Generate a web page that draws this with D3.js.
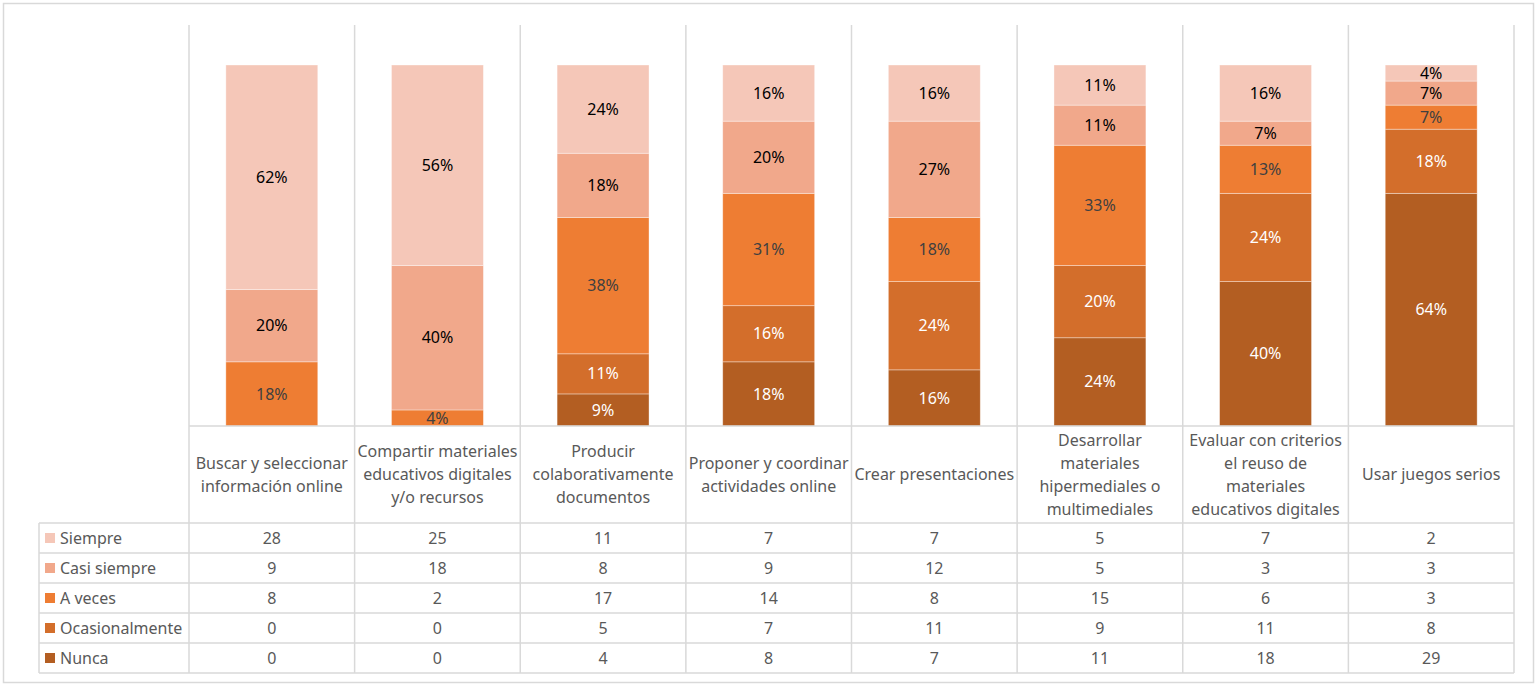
<!DOCTYPE html>
<html>
<head>
<meta charset="utf-8">
<script src="https://cdn.jsdelivr.net/npm/d3@7"></script>
<style>
  body { margin: 0; background: #fff; }
  svg { font-family: "Noto Sans", "Open Sans", sans-serif; }
</style>
</head>
<body>
<svg id="chart" width="1539" height="685"></svg>
<script>
// datos
const categories = [
  "Buscar y seleccionar\ninformación online",
  "Compartir materiales\neducativos digitales\ny/o recursos",
  "Producir\ncolaborativamente\ndocumentos",
  "Proponer y coordinar\nactividades online",
  "Crear presentaciones",
  "Desarrollar\nmateriales\nhipermediales o\nmultimediales",
  "Evaluar con criterios\nel reuso de\nmateriales\neducativos digitales",
  "Usar juegos serios"
];
const seriesNames = ["Siempre", "Casi siempre", "A veces", "Ocasionalmente", "Nunca"];
const siempre        = [28, 25, 11, 7, 7, 5, 7, 2];
const casiSiempre    = [9, 18, 8, 9, 12, 5, 3, 3];
const aVeces         = [8, 2, 17, 14, 8, 15, 6, 3];
const ocasionalmente = [0, 0, 5, 7, 11, 9, 11, 8];
const nunca          = [0, 0, 4, 8, 7, 11, 18, 29];

const valuesBySerie = {
  "Siempre": siempre,
  "Casi siempre": casiSiempre,
  "A veces": aVeces,
  "Ocasionalmente": ocasionalmente,
  "Nunca": nunca
};
const color = d3.scaleOrdinal()
  .domain(seriesNames)
  .range(["#F5C7B8", "#F1A88B", "#EE7D33", "#D36E2B", "#B35E22"]);
const labelColor = {
  "Siempre": "#000", "Casi siempre": "#000", "A veces": "#404040",
  "Ocasionalmente": "#fff", "Nunca": "#fff"
};

const rows = categories.map((c, i) => {
  const r = { cat: c };
  seriesNames.forEach(s => r[s] = valuesBySerie[s][i]);
  return r;
});

const svg = d3.select("#chart");
const left = 189, right = 1514, plotTop = 65, plotBottom = 426, gridTop = 25;
const headerBottom = 523, rowH = 30;
const tableLeft = 39;
const lineColor = "#D9D9D9";
const fs = 16;

// borde exterior
svg.append("rect").attr("x", 3.5).attr("y", 3.5).attr("width", 1530).attr("height", 679)
  .attr("fill", "none").attr("stroke", lineColor).attr("stroke-width", 1.5);

const cell = d3.scaleBand().domain(categories).range([left, right]);
const x = d3.scaleBand().domain(categories).range([left, right])
  .paddingInner(0.445).paddingOuter(0.2225);
const y = d3.scaleLinear().domain([0, 1]).range([plotBottom, plotTop]);

const stackKeys = seriesNames.slice().reverse(); // Nunca abajo
const stacked = d3.stack().keys(stackKeys).offset(d3.stackOffsetExpand)(rows);

const layer = svg.append("g").selectAll("g").data(stacked).enter().append("g")
  .attr("fill", d => color(d.key));
layer.selectAll("rect").data(d => d).enter()
  .append("rect")
  .attr("x", d => x(d.data.cat))
  .attr("y", d => y(d[1]))
  .attr("width", x.bandwidth())
  .attr("height", d => y(d[0]) - y(d[1]))
  .attr("stroke", "rgba(255,255,255,0.45)")
  .attr("stroke-width", 0.8);

// etiquetas de porcentaje
stacked.forEach(s => {
  svg.append("g").selectAll("text").data(s.filter(p => p.data[s.key] > 0)).enter()
    .append("text")
    .attr("x", d => x(d.data.cat) + x.bandwidth() / 2)
    .attr("y", d => (y(d[0]) + y(d[1])) / 2)
    .attr("dy", "0.35em")
    .attr("text-anchor", "middle")
    .attr("font-size", fs)
    .attr("fill", labelColor[s.key])
    .text(d => Math.round((d[1] - d[0]) * 100) + "%");
});

// líneas de la cuadrícula / tabla
const grid = svg.append("g").attr("stroke", lineColor).attr("stroke-width", 1.5);
const bounds = categories.map(c => cell(c)).concat([right]);
grid.selectAll(".v").data(bounds).enter().append("line")
  .attr("x1", d => d).attr("x2", d => d)
  .attr("y1", gridTop).attr("y2", headerBottom + rowH * seriesNames.length);
grid.append("line").attr("x1", tableLeft).attr("x2", tableLeft)
  .attr("y1", headerBottom).attr("y2", headerBottom + rowH * seriesNames.length);
grid.append("line").attr("x1", left).attr("x2", right).attr("y1", plotBottom).attr("y2", plotBottom);
grid.selectAll(".h").data(d3.range(seriesNames.length + 1)).enter().append("line")
  .attr("x1", tableLeft).attr("x2", right)
  .attr("y1", i => headerBottom + i * rowH).attr("y2", i => headerBottom + i * rowH);

// encabezados de categoría
const lineH = 23;
const headerMid = (plotBottom + headerBottom) / 2;
categories.forEach(c => {
  const lines = c.split("\n");
  const t = svg.append("text")
    .attr("text-anchor", "middle").attr("font-size", fs).attr("fill", "#595959");
  lines.forEach((ln, k) => {
    t.append("tspan")
      .attr("x", cell(c) + cell.bandwidth() / 2)
      .attr("y", headerMid + (k - (lines.length - 1) / 2) * lineH)
      .attr("dy", "0.35em")
      .text(ln);
  });
});

// filas de la tabla con leyenda
seriesNames.forEach((s, i) => {
  const cy = headerBottom + i * rowH + rowH / 2;
  svg.append("rect").attr("x", 45).attr("y", cy - 5).attr("width", 10).attr("height", 10)
    .attr("fill", color(s));
  svg.append("text").attr("x", 60).attr("y", cy).attr("dy", "0.35em")
    .attr("font-size", fs).attr("fill", "#595959").text(s);
  svg.append("g").selectAll("text").data(valuesBySerie[s]).enter().append("text")
    .attr("x", (d, j) => cell(categories[j]) + cell.bandwidth() / 2)
    .attr("y", cy).attr("dy", "0.35em")
    .attr("text-anchor", "middle").attr("font-size", fs).attr("fill", "#595959")
    .text(d => d);
});
</script>
</body>
</html>
